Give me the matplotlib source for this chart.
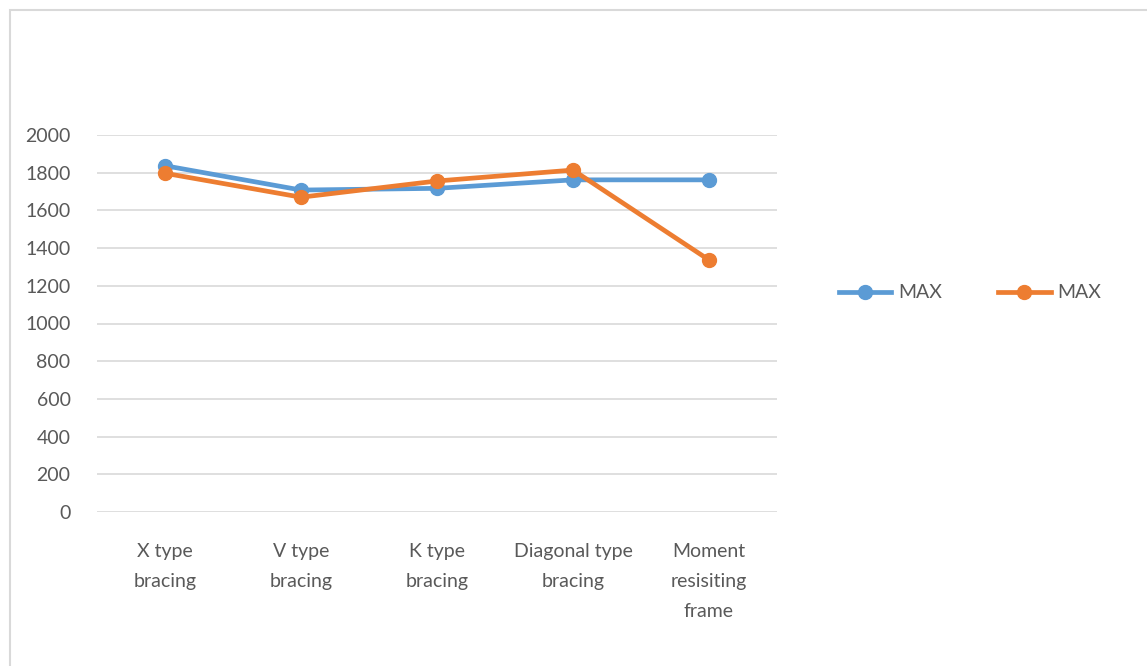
import matplotlib
matplotlib.use("Agg")
import matplotlib.pyplot as plt
from matplotlib.patches import Rectangle

categories = ["X type\nbracing", "V type\nbracing", "K type\nbracing",
              "Diagonal type\nbracing", "Moment\nresisiting\nframe"]
series1 = [1837, 1708, 1717, 1762, 1762]
series2 = [1797, 1670, 1756, 1814, 1337]
series_labels = ["MAX", "MAX"]
yticks = [0, 200, 400, 600, 800, 1000, 1200, 1400, 1600, 1800, 2000]

plt.rcParams['font.family'] = ['Lato', 'DejaVu Sans']
text_color = "#595959"

fig = plt.figure(figsize=(11.47, 6.66), dpi=100)
fig.patch.set_facecolor("white")
fig.patches.append(Rectangle((10/1147, -0.05), 1.2, 1 - 10/666 + 0.05,
                             transform=fig.transFigure, fill=False,
                             edgecolor="#d9d9d9", linewidth=1.5))

ax = fig.add_axes([97/1147, 1 - 512/666, 680/1147, 377/666])
x = list(range(len(categories)))
ax.plot(x, series1, color="#5b9bd5", lw=3.4, marker="o", ms=10, label=series_labels[0], zorder=3)
ax.plot(x, series2, color="#ed7d31", lw=3.4, marker="o", ms=10, label=series_labels[1], zorder=4)

ax.set_xlim(-0.5, len(categories) - 0.5)
ax.set_ylim(0, 2000)
ax.set_yticks(yticks)
ax.set_yticklabels([str(v) for v in yticks])
ax.set_xticks(x)
ax.set_xticklabels(categories, linespacing=1.95)
ax.tick_params(axis="both", length=0, labelsize=14, colors=text_color)
ax.tick_params(axis="y", pad=19)
ax.tick_params(axis="x", pad=22)
ax.grid(axis="y", color="#d9d9d9", lw=1.2)
ax.set_axisbelow(True)
for s in ax.spines.values():
    s.set_visible(False)

fig.legend(loc="center", bbox_to_anchor=(970/1147, 1 - 293/666), ncol=2,
           frameon=False, fontsize=14, labelcolor=text_color,
           handlelength=2.7, columnspacing=2.9, handletextpad=0.35)

fig.savefig("out.png", dpi=100, facecolor="white")
